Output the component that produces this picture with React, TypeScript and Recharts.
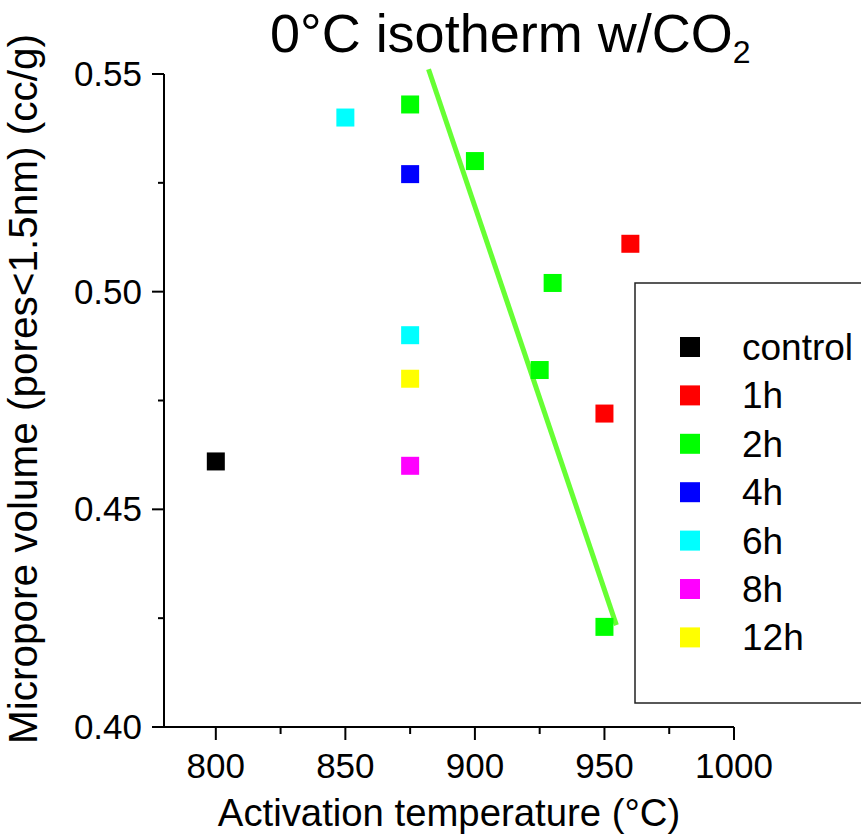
import { ScatterChart, Scatter, XAxis, YAxis, ReferenceLine } from 'recharts';

const FONT = '"Liberation Sans", Arial, sans-serif';

// activation temperature (°C) vs micropore volume (cc/g)
const control = [{ t: 800, v: 0.461 }];
const h1 = [
  { t: 960, v: 0.511 },
  { t: 950, v: 0.472 },
];
const h2 = [
  { t: 875, v: 0.543 },
  { t: 900, v: 0.53 },
  { t: 930, v: 0.502 },
  { t: 925, v: 0.482 },
  { t: 950, v: 0.423 },
];
const h4 = [{ t: 875, v: 0.527 }];
const h6 = [
  { t: 850, v: 0.54 },
  { t: 875, v: 0.49 },
];
const h8 = [{ t: 875, v: 0.46 }];
const h12 = [{ t: 875, v: 0.48 }];

// hand-drawn trend line for the 2h points
const fitLine = [
  { t: 882.1, v: 0.5511 },
  { t: 954.6, v: 0.4234 },
];

const series = [
  { name: 'control', color: '#000000', data: control },
  { name: '1h', color: '#ff0000', data: h1 },
  { name: '2h', color: '#00ff00', data: h2 },
  { name: '4h', color: '#0000ff', data: h4 },
  { name: '6h', color: '#00ffff', data: h6 },
  { name: '8h', color: '#ff00ff', data: h8 },
  { name: '12h', color: '#ffff00', data: h12 },
];

const xTicks = [800, 825, 850, 875, 900, 925, 950, 975, 1000];
const yTicks = [0.4, 0.425, 0.45, 0.475, 0.5, 0.525, 0.55];

const XTick = (props: any) => {
  const { x, y, payload } = props;
  const major = payload.value % 50 === 0;
  return (
    <g>
      <line x1={x} x2={x} y1={y} y2={y + (major ? 13 : 7)} stroke="#000" strokeWidth={2} />
      {major && (
        <text x={x} y={y + 51} textAnchor="middle" fontSize={35} fontFamily={FONT} fill="#000">
          {payload.value}
        </text>
      )}
    </g>
  );
};

const YTick = (props: any) => {
  const { x, y, payload } = props;
  const v = payload.value;
  const major = Math.abs(v * 20 - Math.round(v * 20)) < 1e-6;
  return (
    <g>
      <line x1={x} x2={x - (major ? 12 : 6)} y1={y} y2={y} stroke="#000" strokeWidth={2} />
      {major && (
        <text x={x - 22} y={y + 12} textAnchor="end" fontSize={35} fontFamily={FONT} fill="#000">
          {v.toFixed(2)}
        </text>
      )}
    </g>
  );
};

const square = (color: string) => (props: any) =>
  <rect x={props.cx - 9} y={props.cy - 9} width={18} height={18} fill={color} />;

export default function App() {
  return (
    <div
      style={{
        position: 'absolute',
        left: 0,
        top: 0,
        width: 861,
        height: 834,
        overflow: 'hidden',
        background: '#fff',
        fontFamily: FONT,
      }}
    >
      <ScatterChart width={861} height={834} margin={{ top: 74, right: 127, bottom: 0, left: 0 }}>
        <XAxis
          type="number"
          dataKey="t"
          domain={[780, 1000]}
          ticks={xTicks}
          interval={0}
          height={107}
          tickSize={0}
          tickMargin={0}
          tickLine={false}
          axisLine={{ stroke: '#000', strokeWidth: 2 }}
          tick={<XTick />}
          label={{
            content: (p: any) => (
              <text
                x={p.viewBox.x + p.viewBox.width / 2}
                y={826}
                textAnchor="middle"
                fontSize={38.3}
                fontFamily={FONT}
                fill="#000"
              >
                Activation temperature (°C)
              </text>
            ),
          }}
        />
        <YAxis
          type="number"
          dataKey="v"
          domain={[0.4, 0.55]}
          ticks={yTicks}
          interval={0}
          width={164}
          tickSize={0}
          tickMargin={0}
          tickLine={false}
          axisLine={{ stroke: '#000', strokeWidth: 2 }}
          tick={<YTick />}
          label={{
            content: () => (
              <text
                x={37}
                y={389}
                transform="rotate(-90, 37, 389)"
                textAnchor="middle"
                fontSize={40.5}
                fontFamily={FONT}
                fill="#000"
              >
                Micropore volume (pores&lt;1.5nm) (cc/g)
              </text>
            ),
          }}
        />
        {series.map((s) => (
          <Scatter
            key={s.name}
            name={s.name}
            data={s.data}
            fill={s.color}
            shape={square(s.color)}
            isAnimationActive={false}
          />
        ))}
        <ReferenceLine
          segment={[
            { x: fitLine[0].t, y: fitLine[0].v },
            { x: fitLine[1].t, y: fitLine[1].v },
          ]}
          stroke="#66ff33"
          strokeWidth={5}
          ifOverflow="visible"
        />
      </ScatterChart>

      {/* title + legend box drawn on top */}
      <svg
        width={861}
        height={834}
        style={{ position: 'absolute', left: 0, top: 0, pointerEvents: 'none' }}
      >
        <text x={270} y={52} fontSize={54} fontFamily={FONT} fill="#000">
          0°C isotherm w/CO
          <tspan fontSize={32} dy={11}>
            2
          </tspan>
        </text>
        <rect x={635} y={283} width={300} height={420} fill="#fff" stroke="#222" strokeWidth={1.5} />
        {series.map((s, i) => {
          const cy = 347 + i * 48.4;
          return (
            <g key={s.name}>
              <rect x={680} y={cy - 10} width={20} height={20} fill={s.color} />
              <text x={742} y={cy + 13} fontSize={37} fontFamily={FONT} fill="#000">
                {s.name}
              </text>
            </g>
          );
        })}
      </svg>
    </div>
  );
}
